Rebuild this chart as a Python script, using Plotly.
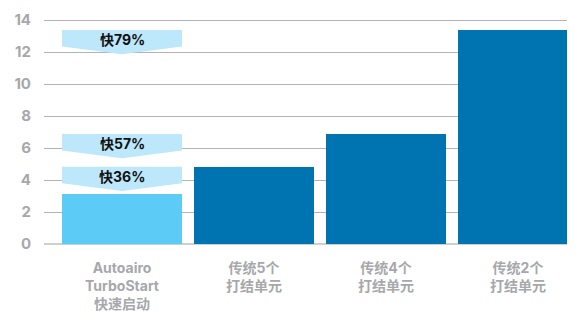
import plotly.graph_objects as go

categories = ["Autoairo<br>TurboStart<br>快速启动", "传统5个<br>打结单元", "传统4个<br>打结单元", "传统2个<br>打结单元"]
values = [3.15, 4.83, 6.88, 13.38]
bar_colors = ["#5ccbf5", "#0073b1", "#0073b1", "#0073b1"]
badge_labels = ["快36%", "快57%", "快79%"]
badge_refs = [1, 2, 3]  # index of compared bar; badge top aligns with that bar's value
y_ticks = [0, 2, 4, 6, 8, 10, 12, 14]

FONT = "Inter, Noto Sans CJK SC"

fig = go.Figure()
fig.add_trace(go.Bar(
    x=list(range(len(categories))), y=values,
    marker=dict(color=bar_colors, line=dict(width=0)),
    width=120 / 132, hoverinfo="skip",
))

half = 60 / 132
for lab, ref in zip(badge_labels, badge_refs):
    top = values[ref]
    side = top - 1.04
    tip = top - 1.52
    path = (f"M {-half},{top} L {half},{top} L {half},{side} "
            f"L 0,{tip} L {-half},{side} Z")
    fig.add_shape(type="path", path=path, xref="x", yref="y",
                  fillcolor="#bde7fa", line=dict(width=0), layer="above")
    fig.add_annotation(x=0, y=top - 0.6, text=lab, showarrow=False,
                       xref="x", yref="y",
                       font=dict(family=FONT, size=14, color="#111111", weight="bold"))

fig.update_layout(
    width=567, height=303,
    margin=dict(l=36, r=0, t=0, b=67),
    paper_bgcolor="white", plot_bgcolor="white",
    showlegend=False,
    bargap=0,
)
fig.update_xaxes(
    tickmode="array", tickvals=list(range(len(categories))), ticktext=categories,
    range=[-0.591, 3.432], showgrid=False, zeroline=False,
    showline=False, ticks="", ticklabelstandoff=14,
    tickfont=dict(family=FONT, size=14, color="#a7a8aa", weight="bold"),
)
fig.update_yaxes(
    range=[0, 14.75], tickmode="array", tickvals=y_ticks,
    showgrid=True, gridcolor="#b3b3b5", gridwidth=1.3,
    zeroline=True, zerolinecolor="#cfcfd0", zerolinewidth=2,
    ticks="", ticklabelstandoff=12,
    tickfont=dict(family=FONT, size=15, color="#a7a8aa", weight="bold"),
)

fig.write_html("out.html")
